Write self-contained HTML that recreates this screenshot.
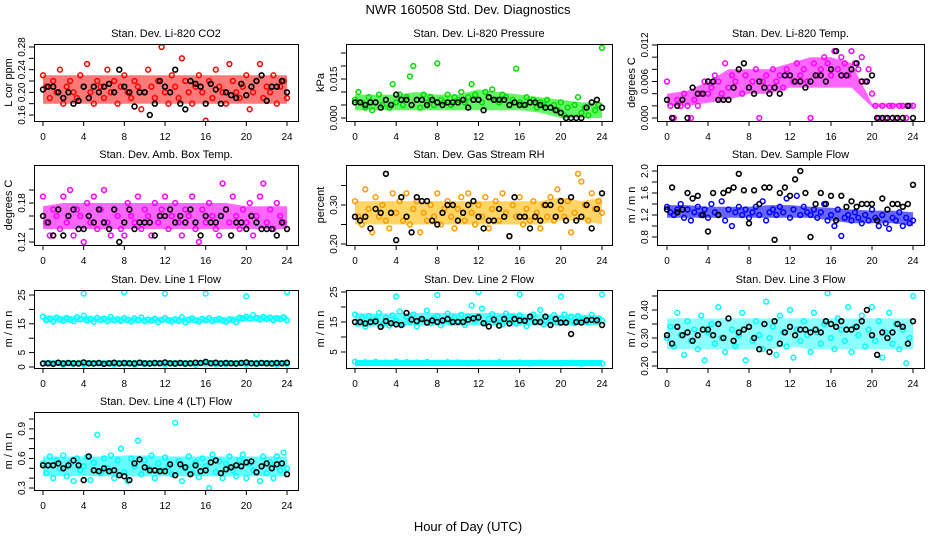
<!DOCTYPE html>
<html><head><meta charset="utf-8">
<style>
html,body{margin:0;padding:0;background:#fff;}
svg{display:block;font-family:"Liberation Sans",sans-serif;}
</style></head>
<body>
<svg id="chart" width="936" height="540" viewBox="0 0 936 540" xmlns="http://www.w3.org/2000/svg">
<text x="468" y="14" font-size="13" text-anchor="middle">NWR  160508  Std. Dev. Diagnostics</text>
<text x="468" y="531" font-size="13" text-anchor="middle">Hour of Day (UTC)</text>
</svg>
<script>
// ---- data ----
const hourTicks=[0,4,8,12,16,20,24];
// CO2
const co2Red=[0.23,0.21,0.19,0.22,0.20,0.24,0.18,0.21,0.22,0.20,0.19,0.23,0.21,0.25,0.20,0.18,0.22,0.21,0.19,0.24,0.20,0.22,0.18,0.21,0.23,0.20,0.19,0.22,0.21,0.17,0.20,0.24,0.21,0.19,0.22,0.28,0.20,0.18,0.23,0.21,0.19,0.26,0.22,0.20,0.18,0.21,0.23,0.20,0.15,0.22,0.19,0.24,0.21,0.20,0.18,0.25,0.22,0.20,0.19,0.21,0.23,0.17,0.20,0.22,0.25,0.19,0.21,0.20,0.23,0.18,0.21,0.22,0.19];
const co2Black=[0.205,0.21,0.21,0.20,0.19,0.20,0.18,0.185,0.21,0.19,0.21,0.20,0.21,0.215,0.20,0.24,0.21,0.20,0.175,0.20,0.20,0.16,0.18,0.22,0.21,0.20,0.24,0.18,0.17,0.22,0.215,0.21,0.18,0.215,0.205,0.18,0.20,0.195,0.19,0.215,0.195,0.21,0.22,0.23,0.185,0.21,0.21,0.22,0.20];
const co2Lo=[0.18,0.18,0.18,0.18,0.18,0.18,0.18,0.18,0.18,0.18,0.18,0.18,0.18];
const co2Hi=[0.23,0.23,0.23,0.23,0.23,0.23,0.23,0.23,0.23,0.23,0.23,0.23,0.23];
// Pressure
const presGreen=[0.007,0.010,0.006,0.004,0.008,0.003,0.006,0.009,0.005,0.007,0.004,0.013,0.006,0.009,0.005,0.008,0.016,0.020,0.007,0.004,0.009,0.006,0.008,0.005,0.021,0.007,0.006,0.009,0.005,0.008,0.007,0.010,0.006,0.008,0.013,0.009,0.007,0.006,0.010,0.008,0.011,0.007,0.006,0.009,0.008,0.005,0.007,0.019,0.006,0.005,0.008,0.006,0.007,0.004,0.006,0.005,0.007,0.004,0.005,0.003,0.006,0.001,0.004,0.000,0.005,0.008,0.002,0.004,0.001,0.006,0.003,0.005,0.027];
const presBlack=[0.006,0.006,0.005,0.006,0.006,0.004,0.007,0.005,0.009,0.007,0.007,0.005,0.007,0.007,0.005,0.007,0.006,0.005,0.006,0.006,0.006,0.007,0.004,0.007,0.007,0.003,0.008,0.007,0.007,0.007,0.005,0.006,0.005,0.005,0.006,0.006,0.005,0.004,0.004,0.003,0.002,0.000,0.000,0.000,0.000,0.004,0.006,0.007,0.004];
const presLo=[0.003,0.003,0.003,0.003,0.003,0.003,0.003,0.003,0.003,0.002,0.000,0.000,0.000];
const presHi=[0.009,0.009,0.009,0.010,0.009,0.009,0.011,0.010,0.009,0.008,0.007,0.006,0.006];
// Li-820 temp
const tempMag=[0.006,0.002,0.000,0.003,0.002,0.004,0.002,0.000,0.003,0.002,0.004,0.006,0.004,0.005,0.007,0.006,0.004,0.009,0.005,0.007,0.006,0.008,0.004,0.007,0.005,0.006,0.008,0.000,0.006,0.007,0.005,0.008,0.006,0.007,0.005,0.008,0.007,0.006,0.009,0.007,0.008,0.006,0.000,0.009,0.007,0.008,0.010,0.009,0.007,0.011,0.008,0.010,0.009,0.007,0.011,0.009,0.008,0.010,0.006,0.008,0.004,0.002,0.000,0.002,0.000,0.002,0.002,0.000,0.002,0.002,0.000,0.002,0.002];
const tempBlack=[0.003,0.000,0.002,0.003,0.000,0.005,0.004,0.004,0.006,0.006,0.003,0.003,0.003,0.005,0.008,0.009,0.005,0.004,0.006,0.005,0.004,0.005,0.004,0.007,0.007,0.006,0.006,0.005,0.006,0.007,0.007,0.006,0.008,0.011,0.007,0.007,0.008,0.009,0.006,0.006,0.007,0.000,0.000,0.000,0.000,0.000,0.000,0.002,0.000];
const tempLo=[0.002,0.002,0.0025,0.003,0.004,0.004,0.005,0.005,0.005,0.005,0.0018,0.0018,0.0018];
const tempHi=[0.004,0.0045,0.006,0.008,0.008,0.008,0.009,0.010,0.010,0.009,0.0024,0.0024,0.0024];
// Amb box temp
const ambMag=[0.19,0.15,0.13,0.17,0.16,0.14,0.19,0.15,0.20,0.13,0.17,0.16,0.12,0.18,0.15,0.19,0.14,0.17,0.20,0.15,0.13,0.17,0.16,0.14,0.13,0.18,0.16,0.15,0.19,0.14,0.17,0.16,0.13,0.18,0.15,0.17,0.19,0.14,0.16,0.18,0.15,0.13,0.17,0.16,0.19,0.14,0.12,0.17,0.15,0.18,0.16,0.14,0.13,0.21,0.17,0.15,0.19,0.16,0.14,0.17,0.15,0.18,0.13,0.16,0.19,0.21,0.15,0.17,0.14,0.18,0.16,0.15,0.14];
const ambBlack=[0.16,0.15,0.13,0.17,0.13,0.16,0.17,0.14,0.14,0.16,0.15,0.17,0.15,0.14,0.17,0.12,0.15,0.17,0.14,0.15,0.15,0.15,0.13,0.16,0.16,0.17,0.15,0.16,0.15,0.17,0.15,0.13,0.16,0.15,0.15,0.16,0.17,0.13,0.15,0.15,0.14,0.16,0.15,0.14,0.14,0.14,0.13,0.15,0.14];
const ambLo=[0.14,0.14,0.14,0.14,0.14,0.14,0.14,0.14,0.14,0.14,0.14,0.14,0.14];
const ambHi=[0.175,0.18,0.18,0.18,0.18,0.18,0.18,0.18,0.18,0.18,0.175,0.175,0.175];
// Gas stream RH
const rhOrange=[0.31,0.27,0.25,0.34,0.29,0.23,0.32,0.27,0.30,0.26,0.24,0.33,0.28,0.31,0.26,0.33,0.25,0.29,0.31,0.23,0.28,0.26,0.30,0.27,0.33,0.25,0.29,0.31,0.27,0.24,0.29,0.32,0.26,0.33,0.28,0.25,0.30,0.27,0.32,0.24,0.29,0.31,0.26,0.33,0.28,0.22,0.30,0.27,0.32,0.25,0.29,0.26,0.31,0.28,0.24,0.30,0.27,0.32,0.26,0.34,0.29,0.27,0.31,0.23,0.28,0.38,0.36,0.30,0.26,0.33,0.29,0.31,0.28];
const rhBlack=[0.27,0.26,0.27,0.24,0.29,0.28,0.38,0.28,0.21,0.32,0.27,0.23,0.32,0.31,0.31,0.26,0.25,0.28,0.30,0.30,0.26,0.28,0.30,0.31,0.27,0.24,0.26,0.26,0.29,0.27,0.22,0.32,0.27,0.27,0.24,0.27,0.26,0.30,0.30,0.27,0.31,0.26,0.32,0.26,0.27,0.30,0.24,0.29,0.33];
const rhLo=[0.25,0.25,0.25,0.25,0.25,0.25,0.25,0.25,0.25,0.25,0.26,0.26,0.25];
const rhHi=[0.31,0.31,0.31,0.31,0.31,0.31,0.31,0.31,0.31,0.31,0.32,0.31,0.32];
// Sample flow
const sfBlue=[1.35,1.25,1.2,1.3,1.4,1.15,1.3,1.1,1.25,1.35,1.2,1.3,1.15,1.4,1.25,1.2,1.45,1.1,1.3,1.0,1.25,1.35,1.2,1.3,1.15,1.25,1.35,1.2,1.45,1.1,1.25,1.3,1.2,1.35,1.25,1.5,1.15,1.3,1.55,1.2,1.35,1.25,1.2,1.3,1.15,1.25,1.4,1.1,1.2,1.0,1.3,0.82,1.15,1.2,1.1,1.25,1.15,1.05,1.2,1.1,1.3,1.15,1.0,1.2,1.05,0.95,1.15,1.1,1.25,1.0,1.15,1.05,1.1];
const sfBlack=[1.3,1.7,1.25,1.3,1.6,1.5,1.55,1.2,0.9,1.6,1.2,1.6,1.65,1.7,1.95,1.65,1.05,1.65,1.4,1.7,1.7,0.75,1.6,1.7,1.55,1.85,2.0,1.6,0.8,1.4,1.6,1.4,1.55,1.1,1.55,1.35,1.45,1.35,1.4,1.4,1.4,1.1,1.5,1.3,1.4,1.4,1.35,1.4,1.75];
const sfLo=[1.15,1.15,1.15,1.15,1.15,1.15,1.15,1.15,1.1,1.05,1.05,1.05,1.0];
const sfHi=[1.38,1.38,1.35,1.35,1.35,1.38,1.38,1.35,1.33,1.3,1.28,1.28,1.25];
// Line 1 flow
const l1Cyan=[17.5,16.2,16.8,15.8,17.2,16.5,16.0,17.0,16.4,15.9,17.3,16.6,17.8,16.1,16.7,15.7,17.1,16.3,16.8,15.9,17.4,16.2,16.6,16.0,17.0,16.4,15.8,16.9,16.3,17.2,15.9,16.5,16.1,16.8,15.6,16.4,17.0,16.2,15.8,16.6,16.0,17.3,15.5,16.5,16.9,16.1,15.8,16.7,16.3,17.0,15.9,16.4,16.8,16.1,15.7,16.6,16.2,15.6,17.2,16.9,17.5,16.8,18.0,17.1,16.5,17.4,16.7,17.2,16.3,17.0,16.6,17.3,16.2];
const l1CyanLow=[1.2,1.0,0.8,1.1,0.9,1.2,1.0,0.9,1.1,0.8,1.0,1.2,0.9,1.1,1.0,0.8,1.2,0.9,1.0,1.1,0.9,1.0,1.2,0.8,1.0];
const l1OutHours=[4,8,12,16,20,24];
const l1Out=[25.5,26,25.5,25.5,24.5,26];
const l1Black=[1.2,1.3,1.1,1.5,1.2,1.4,1.3,1.2,1.6,1.3,1.2,1.4,1.1,1.3,1.5,1.2,1.4,1.3,1.2,1.5,1.3,1.2,1.4,1.3,1.6,1.3,1.2,1.4,1.2,1.3,1.5,1.4,1.8,1.3,1.5,1.2,1.4,1.3,1.2,1.4,1.6,1.3,1.2,1.4,1.3,1.2,1.4,1.3,1.5];
const l1Lo=[15.5,15.5,15.5,15.5,15.3,15.3,15.3,15.3,15.3,15.3,15.8,15.8,15.8];
const l1Hi=[18,17.8,17.6,17.6,17.4,17.4,17.4,17.4,17.4,17.4,18,18,17.8];
// Line 2 flow
const l2Cyan=[17.5,14.5,16.5,13.5,17.0,15.0,16.0,18.0,14.0,16.5,13.8,17.2,15.5,18.5,14.2,16.8,15.0,17.5,13.5,16.0,15.8,18.8,14.6,16.2,17.0,13.9,15.5,17.8,14.8,16.5,15.2,17.4,14.0,16.8,20.5,15.5,17.0,19.5,14.5,16.0,17.6,15.0,16.3,14.2,17.8,15.6,16.9,14.5,17.2,15.8,13.6,16.4,17.5,15.0,19.0,14.2,16.6,15.2,17.3,14.8,16.0,17.5,15.4,16.8,14.6,17.0,15.5,16.2,14.8,17.4,15.2,16.0,15.5];
const l2CyanLow=[1.8,1.6,1.7,1.5,1.8,1.6,1.5,1.7,1.4,1.6,1.5,1.3,1.5,1.4,1.6,1.3,1.5,1.2,1.4,1.3,1.2,1.4,1.1,1.3,1.2];
const l2OutHours=[4,8,12,16,20,24];
const l2Out=[23.5,24,25,24.2,23.5,24.2];
const l2Black=[15,15,14.5,15,15.2,13.4,15.3,14.6,14.2,14,18,15.8,15.3,16,14.8,15.5,15,15.5,16,15,15,15,15.8,16.2,16.5,14.6,13.5,15.8,13.8,16,14.5,16,15.5,15.4,16.8,15,15,16.8,14,16,14.8,14.8,11,15,14.8,15.6,15.7,15.6,14];
const l2Lo=[13.5,13.5,13.8,13.8,13.8,13.8,13.8,13.8,13.8,13.8,13.8,14,14];
const l2Hi=[18,17.8,18,18,18,18,18,18,17.8,17.6,17.5,17.5,17.2];
// Line 3 flow
const l3Cyan=[0.30,0.34,0.27,0.39,0.31,0.24,0.36,0.29,0.33,0.26,0.38,0.22,0.32,0.35,0.28,0.41,0.30,0.25,0.37,0.33,0.27,0.31,0.39,0.22,0.34,0.29,0.36,0.31,0.26,0.43,0.30,0.34,0.24,0.38,0.32,0.27,0.40,0.23,0.33,0.29,0.36,0.31,0.25,0.39,0.32,0.28,0.35,0.46,0.30,0.26,0.37,0.33,0.29,0.41,0.25,0.34,0.31,0.38,0.27,0.33,0.41,0.29,0.36,0.23,0.32,0.39,0.28,0.35,0.26,0.33,0.21,0.30,0.45];
const l3Black=[0.31,0.28,0.34,0.31,0.32,0.29,0.31,0.33,0.33,0.31,0.35,0.30,0.37,0.29,0.32,0.33,0.34,0.30,0.26,0.35,0.25,0.36,0.28,0.32,0.34,0.31,0.33,0.33,0.32,0.33,0.32,0.36,0.35,0.34,0.36,0.33,0.33,0.34,0.36,0.40,0.31,0.24,0.32,0.30,0.32,0.35,0.34,0.28,0.36];
const l3Lo=[0.26,0.26,0.26,0.26,0.26,0.26,0.27,0.26,0.26,0.26,0.26,0.26,0.26];
const l3Hi=[0.37,0.37,0.37,0.37,0.37,0.37,0.37,0.37,0.37,0.37,0.37,0.37,0.37];
// Line 4 flow
const l4Cyan=[0.55,0.45,0.62,0.40,0.58,0.50,0.63,0.42,0.55,0.37,0.60,0.48,0.52,0.62,0.38,0.56,0.84,0.45,0.60,0.50,0.63,0.40,0.58,0.70,0.46,0.37,0.60,0.52,0.78,0.44,0.58,0.50,0.63,0.40,0.55,0.48,0.61,0.52,0.44,0.96,0.57,0.37,0.50,0.62,0.45,0.56,0.41,0.60,0.52,0.30,0.64,0.46,0.57,0.40,0.55,0.62,0.48,0.42,0.58,0.64,0.40,0.55,0.48,1.05,0.37,0.62,0.45,0.56,0.40,0.62,0.48,0.66,0.50];
const l4Black=[0.53,0.53,0.53,0.55,0.50,0.53,0.58,0.53,0.38,0.62,0.48,0.47,0.50,0.47,0.48,0.43,0.42,0.38,0.55,0.59,0.51,0.48,0.48,0.47,0.47,0.54,0.43,0.54,0.51,0.44,0.53,0.47,0.48,0.56,0.58,0.45,0.49,0.51,0.53,0.52,0.56,0.57,0.46,0.52,0.55,0.50,0.54,0.55,0.44];
const l4Lo=[0.42,0.42,0.42,0.42,0.42,0.42,0.42,0.42,0.42,0.42,0.42,0.42,0.42];
const l4Hi=[0.62,0.62,0.62,0.62,0.63,0.63,0.62,0.62,0.62,0.62,0.62,0.62,0.62];

// ---- layout ----
const svg=document.getElementById('chart');
const NS='http://www.w3.org/2000/svg';
const COLS=[{l:34,r:298,x0:43,x24:287},{l:346,r:612,x0:355,x24:602},{l:657,r:924,x0:667,x24:913}];
const ROWS=[{t:44,b:121},{t:165,b:245},{t:290,b:368},{t:412,b:490}];

function el(tag,attrs,parent){const e=document.createElementNS(NS,tag);for(const k in attrs)e.setAttribute(k,attrs[k]);(parent||svg).appendChild(e);return e;}

const panels=[
 {key:'co2',title:'Stan. Dev. Li-820 CO2',ylab:'L cor ppm',c:0,r:0,y0:0.16,y1:0.28,p0:115,p1:47,ticks:[0.16,0.18,0.20,0.22,0.24,0.26,0.28],labels:['0.16','0.20','0.24','0.28'],col:'#ff0000',band:'#ff2020',main:co2Red,black:co2Black,lo:co2Lo,hi:co2Hi},
 {key:'pressure',title:'Stan. Dev. Li-820 Pressure',ylab:'kPa',c:1,r:0,y0:0,y1:0.015,p0:118,p1:79,ticks:[0,0.005,0.010,0.015,0.020,0.025],labels:['0.000','0.015'],col:'#00dd00',band:'#00ee00',main:presGreen,black:presBlack,lo:presLo,hi:presHi},
 {key:'temp',title:'Stan. Dev. Li-820 Temp.',ylab:'degrees C',c:2,r:0,y0:0,y1:0.012,p0:118,p1:45,ticks:[0,0.002,0.004,0.006,0.008,0.010,0.012],labels:['0.000','0.006','0.012'],col:'#ff00ff',band:'#ff00ff',main:tempMag,black:tempBlack,lo:tempLo,hi:tempHi},
 {key:'amb',title:'Stan. Dev. Amb. Box Temp.',ylab:'degrees C',c:0,r:1,y0:0.12,y1:0.18,p0:242,p1:203,ticks:[0.12,0.14,0.16,0.18,0.20],labels:['0.12','0.18'],col:'#ff00ff',band:'#ff00ff',main:ambMag,black:ambBlack,lo:ambLo,hi:ambHi},
 {key:'rh',title:'Stan. Dev. Gas Stream RH',ylab:'percent',c:1,r:1,y0:0.20,y1:0.30,p0:244,p1:205,ticks:[0.20,0.25,0.30,0.35],labels:['0.20','0.30'],col:'#ff9900',band:'#ffbb00',main:rhOrange,black:rhBlack,lo:rhLo,hi:rhHi},
 {key:'sample',title:'Stan. Dev. Sample Flow',ylab:'m / m n',c:2,r:1,y0:0.8,y1:2.0,p0:237,p1:171,ticks:[0.8,1.0,1.2,1.4,1.6,1.8,2.0],labels:['0.8','1.2','1.6','2.0'],col:'#0000ff',band:'#0000ff',main:sfBlue,black:sfBlack,lo:sfLo,hi:sfHi},
 {key:'line1',title:'Stan. Dev. Line 1 Flow',ylab:'m / m n',c:0,r:2,y0:0,y1:25,p0:367,p1:295,ticks:[0,5,10,15,20,25],labels:['0','5','15','25'],col:'#00ffff',band:'#00ffff',main:l1Cyan,low:l1CyanLow,outH:l1OutHours,out:l1Out,black:l1Black,lo:l1Lo,hi:l1Hi},
 {key:'line2',title:'Stan. Dev. Line 2 Flow',ylab:'m / m n',c:1,r:2,y0:0,y1:25,p0:367,p1:292,ticks:[5,10,15,20,25],labels:['5','15','25'],col:'#00ffff',band:'#00ffff',main:l2Cyan,low:l2CyanLow,outH:l2OutHours,out:l2Out,black:l2Black,lo:l2Lo,hi:l2Hi},
 {key:'line3',title:'Stan. Dev. Line 3 Flow',ylab:'m / m n',c:2,r:2,y0:0.20,y1:0.40,p0:366,p1:310,ticks:[0.20,0.25,0.30,0.35,0.40,0.45],labels:['0.20','0.30','0.40'],col:'#00ffff',band:'#00ffff',main:l3Cyan,black:l3Black,lo:l3Lo,hi:l3Hi,op:0.45},
 {key:'line4',title:'Stan. Dev. Line 4 (LT) Flow',ylab:'m / m n',c:0,r:3,y0:0.3,y1:1.0,p0:488,p1:419,ticks:[0.3,0.4,0.5,0.6,0.7,0.8,0.9,1.0],labels:['0.3','0.6','0.9'],col:'#00ffff',band:'#00ffff',main:l4Cyan,black:l4Black,lo:l4Lo,hi:l4Hi}
];

panels.forEach(p=>{
  const C=COLS[p.c],R=ROWS[p.r];
  const xs=h=>C.x0+(C.x24-C.x0)*h/24;
  const ys=v=>p.p0+(p.p1-p.p0)*(v-p.y0)/(p.y1-p.y0);
  const g=el('g',{});
  
  
  const cp=el('clipPath',{id:'clip-'+p.key},g);
  el('rect',{x:C.l,y:R.t,width:C.r-C.l,height:R.b-R.t},cp);
  const t=el('text',{x:(C.l+C.r)/2,y:R.t-7,'font-size':11,'text-anchor':'middle'},g);
  t.textContent=p.title;
  
  
  const yl=el('text',{transform:`translate(${C.l-22},${(R.t+R.b)/2}) rotate(-90)`,'font-size':11,'text-anchor':'middle'},g);
  yl.textContent=p.ylab;
  
  
  const plot=el('g',{'clip-path':`url(#clip-${p.key})`},g);
  
  
  let d='';
  p.hi.forEach((v,i)=>{d+=(i?'L':'M')+xs(i*2).toFixed(1)+' '+ys(v).toFixed(1);});
  for(let i=p.lo.length-1;i>=0;i--)d+='L'+xs(i*2).toFixed(1)+' '+ys(p.lo[i]).toFixed(1);
  const band=el('path',{d:d+'Z',fill:p.band,'fill-opacity':p.op||0.6,stroke:'none'},plot);
  
  
  if(p.low){
    const lb=el('rect',{x:xs(0),y:ys(2)-1,width:xs(24)-xs(0),height:ys(0.3)-ys(2)+1,fill:p.col},plot);
    
    
  }
  function pts(arr,hours,color,name,sw){
    arr.forEach((v,i)=>{
      const h=hours?hours[i]:i*24/(arr.length-1);
      const c=el('circle',{cx:xs(h).toFixed(1),cy:ys(v).toFixed(1),r:2.4,fill:'none',stroke:color,'stroke-width':sw},plot);
      
      
    });
  }
  pts(p.main,null,p.col,p.key+'-point',1.5);
  if(p.low)pts(p.low,null,p.col,p.key+'-low-point',1.5);
  if(p.out)pts(p.out,p.outH,p.col,p.key+'-outlier-point',1.5);
  pts(p.black,null,'#000',p.key+'-hourly-point',1.6);
  const box=el('rect',{x:C.l+0.5,y:R.t+0.5,width:C.r-C.l,height:R.b-R.t,fill:'none',stroke:'#000','stroke-width':1},g);
  
  
  hourTicks.forEach(h=>{
    const x=xs(h);
    const tk=el('line',{x1:x,x2:x,y1:R.b,y2:R.b+5,stroke:'#000'},g);
    
    
    const tl=el('text',{x:x,y:R.b+19,'font-size':10,'text-anchor':'middle'},g);
    tl.textContent=h;
    
    
  });
  p.ticks.forEach(v=>{
    const y=ys(v);
    const tk=el('line',{x1:C.l-5,x2:C.l,y1:y,y2:y,stroke:'#000'},g);
    
    
  });
  p.labels.forEach(s=>{
    const y=ys(parseFloat(s));
    const tl=el('text',{transform:`translate(${C.l-9},${y}) rotate(-90)`,'font-size':10,'text-anchor':'middle'},g);
    tl.textContent=s;
    
    
  });
});
</script>
</body></html>
